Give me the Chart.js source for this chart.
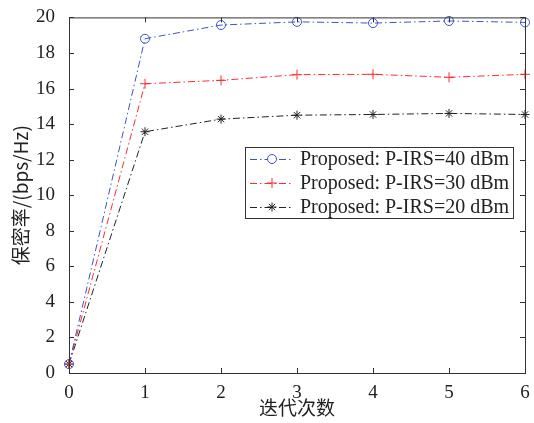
<!DOCTYPE html>
<html>
<head>
<meta charset="utf-8">
<script src="https://cdn.jsdelivr.net/npm/chart.js@4.4.0/dist/chart.umd.min.js"></script>
<style>
  html, body { margin: 0; padding: 0; background: #fff; }
</style>
</head>
<body>
<canvas id="secrecyChart" width="534" height="423"></canvas>
<script>
const iterations = [0, 1, 2, 3, 4, 5, 6];
const seriesLabels = ["Proposed: P-IRS=40 dBm", "Proposed: P-IRS=30 dBm", "Proposed: P-IRS=20 dBm"];
const rate40 = [0.5, 18.8, 19.57, 19.75, 19.68, 19.8, 19.72];
const rate30 = [0.5, 16.27, 16.46, 16.78, 16.8, 16.63, 16.8];
const rate20 = [0.5, 13.57, 14.28, 14.5, 14.54, 14.6, 14.54];
const xTicks = [0, 1, 2, 3, 4, 5, 6];
const yTicks = [0, 2, 4, 6, 8, 10, 12, 14, 16, 18, 20];

const serif = "'Liberation Serif', 'Times New Roman', serif";
const cjk = "'Noto Sans CJK SC', sans-serif";
const dashDot = [7, 3, 1.5, 3];

function toPoints(vals) {
  return iterations.map((x, i) => ({ x: x, y: vals[i] }));
}

function makeSet(label, vals, color, style, radius) {
  return {
    label: label,
    data: toPoints(vals),
    borderColor: color,
    backgroundColor: "rgba(0,0,0,0)",
    borderWidth: 1,
    borderDash: dashDot,
    pointStyle: style,
    pointRadius: radius,
    pointBorderColor: color,
    pointBorderWidth: 1,
    tension: 0,
    clip: false
  };
}

// box, inward ticks and legend, MATLAB-like
const boxPlugin = {
  id: "boxPlugin",
  afterDraw(chart) {
    const ctx = chart.ctx;
    const a = chart.chartArea;
    const xs = chart.scales.x, ys = chart.scales.y;
    ctx.save();
    ctx.strokeStyle = "#333";
    ctx.lineWidth = 1;
    ctx.setLineDash([]);
    ctx.strokeRect(a.left + 0.5, a.top + 0.5, a.right - a.left, a.bottom - a.top);
    const len = 5;
    ctx.beginPath();
    xTicks.forEach(v => {
      const p = Math.round(xs.getPixelForValue(v)) + 0.5;
      ctx.moveTo(p, a.bottom); ctx.lineTo(p, a.bottom - len);
      ctx.moveTo(p, a.top); ctx.lineTo(p, a.top + len);
    });
    yTicks.forEach(v => {
      const p = Math.round(ys.getPixelForValue(v)) + 0.5;
      ctx.moveTo(a.left, p); ctx.lineTo(a.left + len, p);
      ctx.moveTo(a.right, p); ctx.lineTo(a.right - len, p);
    });
    ctx.stroke();

    // legend
    const lx = 245, ly = 147, lw = 268, lh = 71;
    ctx.fillStyle = "#fff";
    ctx.fillRect(lx, ly, lw, lh);
    ctx.strokeStyle = "#333";
    ctx.strokeRect(lx + 0.5, ly + 0.5, lw, lh);
    ctx.font = "20px " + serif;
    ctx.textBaseline = "middle";
    chart.data.datasets.forEach((ds, i) => {
      const y = ly + 12 + i * 24;
      ctx.strokeStyle = ds.borderColor;
      ctx.setLineDash(dashDot);
      ctx.beginPath();
      ctx.moveTo(lx + 5, y + 0.5); ctx.lineTo(lx + 48, y + 0.5);
      ctx.stroke();
      ctx.setLineDash([]);
      Chart.helpers.drawPoint(ctx, {
        pointStyle: ds.pointStyle, radius: ds.pointRadius, borderWidth: 1, rotation: 0
      }, lx + 27, y);
      ctx.fillStyle = "#222";
      ctx.fillText(ds.label, lx + 55, y + 1);
    });
    ctx.restore();
  }
};

const ctx = document.getElementById("secrecyChart").getContext("2d");
new Chart(ctx, {
  type: "line",
  data: {
    datasets: [
      makeSet(seriesLabels[0], rate40, "#3a55c8", "circle", 4.5),
      makeSet(seriesLabels[1], rate30, "#ff2a2a", "cross", 5),
      makeSet(seriesLabels[2], rate20, "#222", "star", 4.5)
    ]
  },
  options: {
    responsive: false,
    animation: false,
    layout: { padding: { top: 15, right: 9, left: 0, bottom: 0 } },
    plugins: {
      legend: { display: false },
      tooltip: { enabled: false }
    },
    scales: {
      x: {
        type: "linear",
        min: 0,
        max: 6,
        afterBuildTicks(scale) { scale.ticks = xTicks.map(v => ({ value: v })); },
        grid: { display: false },
        border: { display: false },
        ticks: { color: "#222", font: { family: serif, size: 19 }, padding: 1 },
        title: { display: true, text: "迭代次数", color: "#222", font: { family: cjk, size: 19 }, padding: { top: 0 } },
        afterFit(scale) { scale.height = 50; }
      },
      y: {
        min: 0,
        max: 20,
        afterBuildTicks(scale) { scale.ticks = yTicks.map(v => ({ value: v })); },
        grid: { display: false },
        border: { display: false },
        ticks: { color: "#222", font: { family: serif, size: 19 }, padding: 6 },
        title: { display: true, text: "保密率/(bps/Hz)", color: "#222", font: { family: cjk, size: 19 }, padding: { top: 9, bottom: 0 } },
        afterFit(scale) { scale.width = 69; }
      }
    }
  },
  plugins: [boxPlugin]
});
</script>
</body>
</html>
